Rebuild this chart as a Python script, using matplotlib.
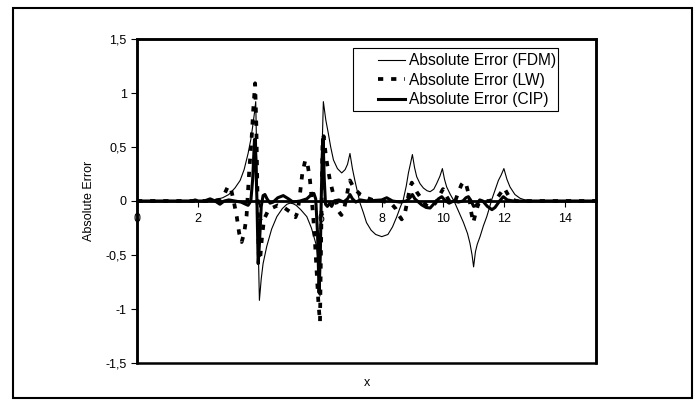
import numpy as np
import matplotlib
matplotlib.use("Agg")
import matplotlib.pyplot as plt
from matplotlib.patches import Rectangle

plt.rcParams['font.family'] = ['Liberation Sans', 'DejaVu Sans']

# values
fdm_x = [0, 2.0, 2.3, 2.6, 2.8, 3.0, 3.2, 3.37, 3.5, 3.63, 3.72, 3.78, 3.84, 3.88,
         3.92, 3.96, 4.0, 4.06, 4.12, 4.24, 4.4, 4.57, 4.75, 4.9, 5.0, 5.1, 5.2,
         5.35, 5.55, 5.7, 5.87, 5.93, 5.98, 6.02, 6.06, 6.09, 6.17, 6.25, 6.33,
         6.42, 6.55, 6.69, 6.8, 6.88, 6.96, 7.04, 7.12, 7.2, 7.29, 7.4, 7.5, 7.65,
         7.8, 8.0, 8.2, 8.35, 8.49, 8.6, 8.7, 8.8, 8.87, 8.94, 9.0, 9.07, 9.14,
         9.25, 9.36, 9.48, 9.58, 9.7, 9.79, 9.9, 9.98, 10.05, 10.12, 10.24, 10.36,
         10.5, 10.67, 10.8, 10.88, 10.95, 11.0, 11.06, 11.12, 11.21, 11.32, 11.43,
         11.52, 11.59, 11.7, 11.81, 11.9, 11.99, 12.09, 12.19, 12.35, 12.52, 12.7,
         12.85, 15]
fdm_y = [0, 0, 0.005, 0.015, 0.03, 0.06, 0.12, 0.19, 0.29, 0.44, 0.57, 0.69, 0.82, 0.92,
         0.3, -0.4, -0.92, -0.72, -0.58, -0.42, -0.26, -0.145, -0.07, -0.03, -0.02, -0.025, -0.04,
         -0.08, -0.145, -0.25, -0.42, -0.6, -0.88, 0.0, 0.6, 0.92, 0.75, 0.63, 0.5,
         0.38, 0.3, 0.26, 0.29, 0.34, 0.44, 0.3, 0.19, 0.09, -0.02, -0.11, -0.2, -0.27,
         -0.31, -0.33, -0.31, -0.24, -0.145, -0.06, 0.01, 0.14, 0.26, 0.35, 0.43, 0.31, 0.225,
         0.16, 0.12, 0.095, 0.086, 0.11, 0.16, 0.23, 0.30, 0.2, 0.13, 0.06, 0.0,
         -0.09, -0.2, -0.3, -0.39, -0.5, -0.61, -0.47, -0.4, -0.33, -0.23, -0.145,
         -0.06, 0.01, 0.1, 0.19, 0.24, 0.30, 0.2, 0.13, 0.06, 0.025, 0.008,
         0.0, 0]

lw_x = [0, 2.4, 2.7, 2.85, 2.98, 3.08, 3.16, 3.26, 3.34, 3.42, 3.5, 3.58, 3.63, 3.67,
        3.75, 3.8, 3.86, 3.9, 3.94, 3.98, 4.02, 4.08, 4.15, 4.3, 4.6, 4.8, 5.0, 5.1,
        5.18, 5.25, 5.32, 5.4, 5.5, 5.58, 5.65, 5.7, 5.76, 5.82, 5.88, 5.93, 5.98,
        6.02, 6.06, 6.1, 6.16, 6.22, 6.3, 6.4, 6.5, 6.6, 6.68, 6.76, 6.84, 6.9, 6.96,
        7.05, 7.15, 7.3, 7.5, 7.7, 8.0, 8.3, 8.45, 8.55, 8.65, 8.75, 8.85, 8.92, 8.98,
        9.05, 9.15, 9.3, 9.45, 9.6, 9.75, 9.9, 10.0, 10.1, 10.25, 10.4, 10.5, 10.6,
        10.68, 10.76, 10.85, 10.92, 10.99, 11.06, 11.15, 11.3, 11.5, 11.75, 11.9,
        12.0, 12.08, 12.2, 12.4, 15]
lw_y = [0, 0, 0.01, 0.06, 0.14, 0.1, 0.0, -0.145, -0.3, -0.38, -0.3, -0.14, 0.1, 0.29,
        0.6, 0.85, 1.09, 0.7, 0.0, -0.5, -0.55, -0.35, -0.17, -0.08, -0.04, -0.06, -0.1, -0.14,
        -0.15, -0.1, 0.05, 0.25, 0.38, 0.33, 0.2, 0.05, -0.15, -0.4, -0.7, -0.95, -1.12,
        -0.3, 0.5, 0.6, 0.45, 0.33, 0.2, 0.08, 0.0, -0.1, -0.13, -0.08, 0.02, 0.12, 0.19,
        0.14, 0.1, 0.06, 0.03, 0.01, 0.0, -0.02, -0.07, -0.13, -0.17, -0.12, 0.02, 0.12, 0.17,
        0.13, 0.08, 0.02, -0.04, -0.06, -0.02, 0.06, 0.11, 0.05, -0.02, 0.0, 0.08, 0.15,
        0.18, 0.15, 0.05, -0.1, -0.2, -0.12, -0.03, 0.0, 0.0, 0.02, 0.08,
        0.12, 0.08, 0.02, 0.0, 0]

cip_x = [0, 1.8, 1.9, 2.0, 2.2, 2.39, 2.55, 2.71, 2.85, 3.0, 3.2, 3.4, 3.55, 3.63, 3.72,
         3.78, 3.84, 3.88, 3.92, 3.96, 4.0, 4.06, 4.12, 4.18, 4.25, 4.35, 4.45, 4.6,
         4.78, 4.95, 5.1, 5.33, 5.55, 5.7, 5.78, 5.84, 5.9, 5.95, 5.99, 6.02, 6.05,
         6.08, 6.12, 6.16, 6.22, 6.3, 6.36, 6.45, 6.6, 6.75, 6.88, 6.96, 7.04, 7.15,
         7.3, 7.5, 8.0, 8.16, 8.35, 8.6, 8.8, 8.92, 9.0, 9.08, 9.2, 9.3, 9.45, 9.58,
         9.72, 9.85, 9.96, 10.05, 10.2, 10.35, 10.5, 10.65, 10.75, 10.83, 10.92, 11.0,
         11.08, 11.2, 11.3, 11.45, 11.6, 11.7, 11.85, 11.97, 12.1, 12.3, 15]
cip_y = [0, 0, 0.01, 0, 0.0, 0.02, 0.0, -0.03, 0.0, 0.01, 0.0, -0.01, -0.03, -0.04, 0.0,
         0.2, 0.57, 0.4, 0.0, -0.58, -0.4, -0.05, 0.05, 0.06, 0.02, -0.02, -0.01, 0.03,
         0.05, 0.02, -0.01, 0.0, 0.02, 0.06, 0.07, 0.02, -0.3, -0.85, -0.5, 0.0, 0.4,
         0.58, 0.2, -0.03, -0.05, -0.02, -0.05, 0.0, 0.01, -0.01, 0.02, 0.06, 0.02, -0.01,
         0.01, 0.0, 0.01, 0.03, 0.0, -0.01, 0.0, 0.03, 0.06, 0.02, -0.01, -0.035, -0.06, -0.065,
         -0.02, 0.02, 0.04, 0.01, -0.02, 0.0, -0.01, 0.0, 0.03, 0.04, 0.0, -0.05,
         -0.04, 0.01, 0.0, -0.05, -0.08, -0.06, 0.0, 0.04, 0.01, 0.0, 0]

x_ticks = [0, 2, 4, 6, 8, 10, 12, 14]
y_ticks = [-1.5, -1, -0.5, 0, 0.5, 1, 1.5]
y_tick_labels = ['-1,5', '-1', '-0,5', '0', '0,5', '1', '1,5']

fig = plt.figure(figsize=(6.96, 4.08), dpi=100)
ax = fig.add_axes([137/696, 1-363/408, 459/696, 324/408])

ax.plot(fdm_x, fdm_y, color='black', lw=0.8, label='Absolute Error (FDM)')
ax.plot(lw_x, lw_y, color='black', lw=2.7, linestyle=(0, (1.4, 2.1)), label='Absolute Error (LW)')
ax.plot(cip_x, cip_y, color='black', lw=2.2, label='Absolute Error (CIP)')

ax.set_xlim(0, 15)
ax.set_ylim(-1.5, 1.5)

# x axis crosses at zero, excel style
ax.spines['bottom'].set_position(('data', 0))
ax.spines['bottom'].set_linewidth(2.0)
for s in ['top', 'left', 'right']:
    ax.spines[s].set_linewidth(1.8)
ax.add_patch(Rectangle((0, 0), 1, 1, transform=ax.transAxes, fill=False,
                       edgecolor='black', lw=1.8, clip_on=False, zorder=5))

ax.set_xticks(x_ticks)
ax.set_xticklabels([str(t) for t in x_ticks])
ax.set_yticks(y_ticks)
ax.set_yticklabels(y_tick_labels)
ax.tick_params(axis='both', direction='out', length=4, width=0.8, labelsize=9)
ax.tick_params(axis='x', pad=5)

ax.set_ylabel('Absolute Error', fontsize=9)
ax.yaxis.set_label_coords(-0.0915, 0.5)
ax.text(0.5, -0.062, 'x', transform=ax.transAxes, ha='center', va='center', fontsize=9)

# legend box
ax.add_patch(Rectangle((0.471, 0.778), 0.446, 0.194, transform=ax.transAxes,
                       facecolor='white', edgecolor='black', lw=0.8, zorder=6))
leg = ax.legend(loc='center left', bbox_to_anchor=(0.525, 0.873), frameon=False,
                fontsize=11.2, handlelength=1.75, handletextpad=0.25,
                labelspacing=0.3, borderpad=0, borderaxespad=0)
leg.set_zorder(7)

# outer border of the figure
fig.patches.append(Rectangle((13/696, 1-398/408), 679/696, 390/408,
                             transform=fig.transFigure, fill=False,
                             edgecolor='black', lw=1.5))

plt.savefig('out.png', dpi=100)
